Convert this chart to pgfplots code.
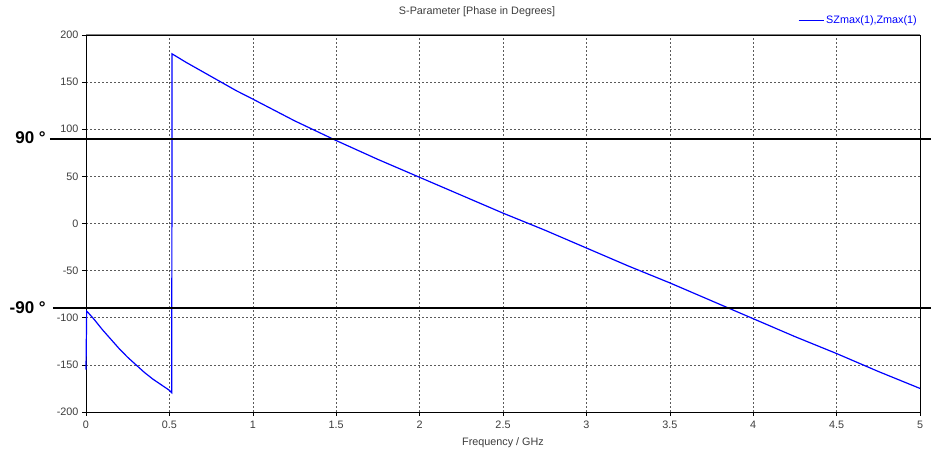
\documentclass[border=0pt]{standalone}
\usepackage{pgfplots}
\pgfplotsset{compat=1.18}
\usepackage{fontspec}
\setmainfont{Liberation Sans}
\definecolor{gridc}{RGB}{90,90,90}
\definecolor{tickc}{RGB}{60,60,60}
\begin{document}
\begin{tikzpicture}[x=1pt,y=1pt]
\path[use as bounding box] (0,0) rectangle (931,454);
\begin{axis}[
  at={(86pt,42pt)}, anchor=south west,
  scale only axis, width=834pt, height=377pt,
  xmin=0, xmax=5, ymin=-200, ymax=200,
  xtick={0,0.5,...,5}, ytick={-200,-150,...,200},
  xticklabels={0,0.5,1,1.5,2,2.5,3,3.5,4,4.5,5},
  tick align=outside, xtick pos=left, ytick pos=left,
  major tick length=4pt,
  tick style={black, line width=0.6pt},
  grid=major,
  major grid style={gridc, dash pattern=on 2pt off 2pt, line width=0.6pt},
  axis line style={black, line width=0.8pt},
  ticklabel style={font=\fontsize{10.8}{12}\selectfont, text=tickc},
  xticklabel style={yshift=-1.5pt},
  /pgf/number format/assume math mode=true,
  xlabel={Frequency / GHz},
  xlabel style={font=\fontsize{10.8}{12}\selectfont, text=tickc, yshift=-2pt},
  clip=false,
  legend style={at={(rel axis cs:1,1)}, anchor=south east, yshift=6pt, xshift=2pt,
    draw=none, fill=none, font=\fontsize{10.8}{12}\selectfont, text=blue},
  legend image code/.code={\draw[blue, line width=1.2pt] (0pt,0pt) -- (25pt,0pt);},
]
\draw[gray, line width=1pt] (rel axis cs:0,1) -- (rel axis cs:1,1);
\addplot[blue, line width=1.2pt] coordinates {
 (0,-155) (0.004,-93) (0.01,-94) (0.05,-102) (0.1,-113) (0.15,-123) (0.2,-133)
 (0.25,-142) (0.3,-150) (0.35,-158) (0.4,-165) (0.45,-171) (0.5,-177) (0.514,-179.5)
 (0.516,180) (0.6,171) (0.7,161) (0.8,151) (0.9,141) (1.0,132) (1.25,109) (1.5,88)
 (1.75,68) (2.0,49) (2.25,30) (2.5,11) (2.75,-7) (3.0,-26) (3.25,-45) (3.5,-63)
 (3.75,-82) (4.0,-101) (4.25,-120) (4.5,-138) (4.75,-157) (5.0,-175)
};
\addlegendentry{SZmax(1),Zmax(1)}
\draw[black, line width=2.2pt] ([xshift=-36pt]axis cs:0,90) -- ([xshift=11pt]axis cs:5,90);
\draw[black, line width=2.2pt] ([xshift=-33pt]axis cs:0,-90) -- ([xshift=11pt]axis cs:5,-90);
\node[anchor=east, font=\fontsize{17}{20}\selectfont\bfseries, inner sep=0pt] at ([xshift=-40pt,yshift=1pt]axis cs:0,90) {90 °};
\node[anchor=east, font=\fontsize{17}{20}\selectfont\bfseries, inner sep=0pt] at ([xshift=-40pt,yshift=1pt]axis cs:0,-90) {-90 °};
\end{axis}
\node[font=\fontsize{10.8}{12}\selectfont, text=tickc] at (477,442) {S-Parameter [Phase in Degrees]};
\end{tikzpicture}
\end{document}
